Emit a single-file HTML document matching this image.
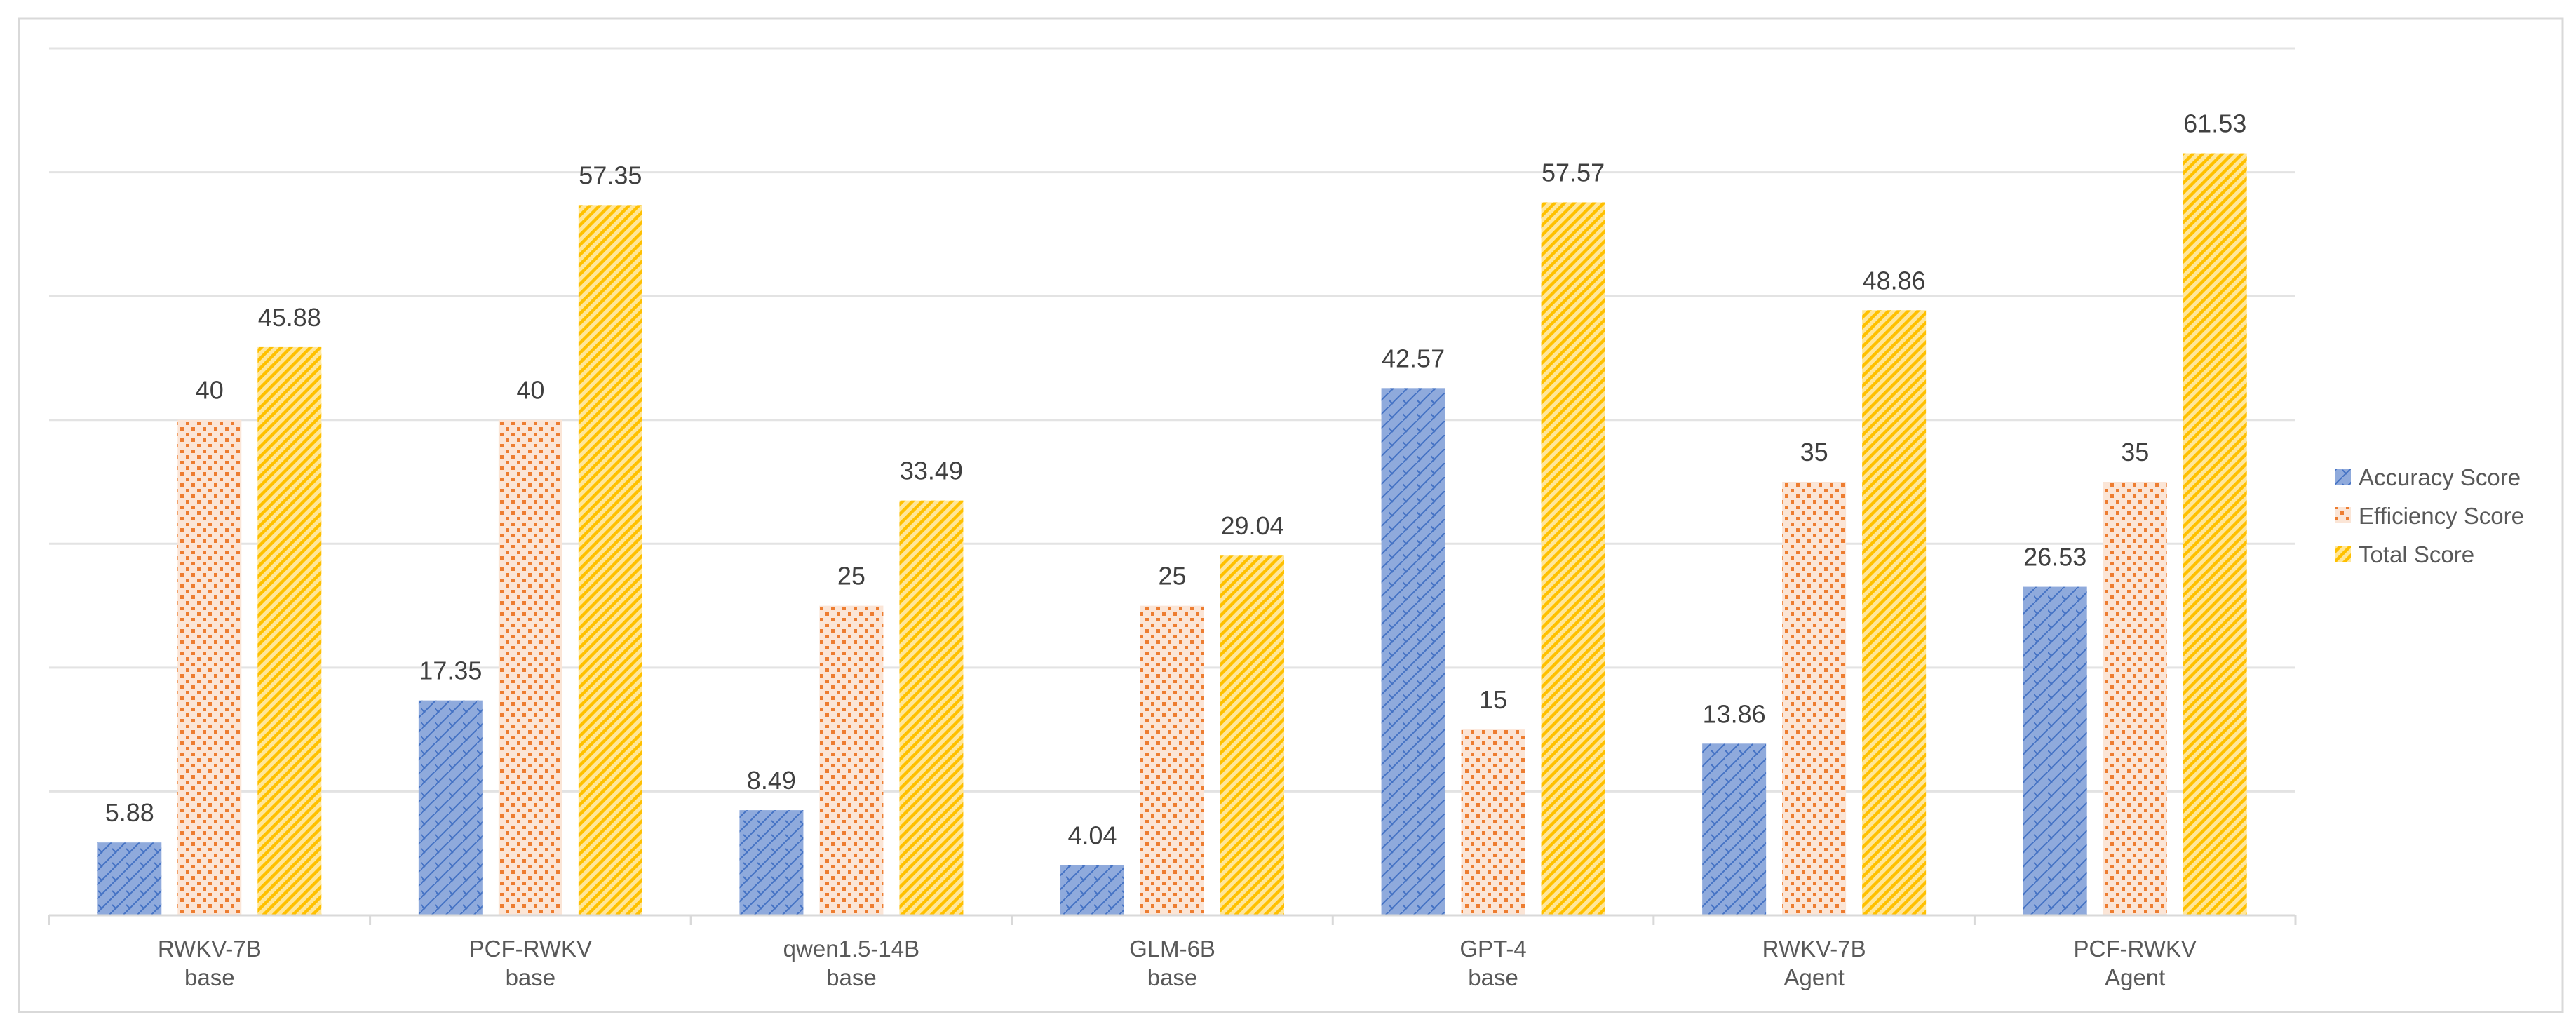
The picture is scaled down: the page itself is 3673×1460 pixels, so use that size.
<!DOCTYPE html>
<html><head><meta charset="utf-8">
<style>
html,body{margin:0;padding:0;background:#fff;}
svg{display:block;font-family:"Liberation Sans",Arial,sans-serif;}
</style></head>
<body>
<svg id="chart" width="3673" height="1460" viewBox="0 0 3673 1460" xmlns="http://www.w3.org/2000/svg">
<defs>
 <pattern id="pat-blue" patternUnits="userSpaceOnUse" width="20" height="20">
  <rect width="20" height="20" fill="#8faadc"/>
  <path d="M-2,22 L22,-2" stroke="#4472c4" stroke-width="2" fill="none"/>
  <path d="M0,10 L6,16" stroke="#4472c4" stroke-width="2" fill="none"/>
 </pattern>
 <pattern id="pat-orange" patternUnits="userSpaceOnUse" width="16" height="16">
  <rect width="16" height="16" fill="#fbe5d6"/>
  <rect x="1" y="1" width="5" height="5" fill="#ed7d31"/>
  <rect x="9" y="9" width="5" height="5" fill="#ed7d31"/>
 </pattern>
 <pattern id="pat-yellow" patternUnits="userSpaceOnUse" width="14" height="14">
  <rect width="14" height="14" fill="#ffe699"/>
  <path d="M-3.5,3.5 L3.5,-3.5 M0,14 L14,0 M10.5,17.5 L17.5,10.5" stroke="#ffc000" stroke-width="4.5"/>
 </pattern>
</defs>
<rect x="27" y="26" width="3627" height="1417" fill="#fff" stroke="#d9d9d9" stroke-width="3"/>
<g id="grid"></g>
<g id="bars"></g>
<g id="xaxis"></g>
<g id="legend"></g>
</svg>
<script>
const categories = [["RWKV-7B","base"],["PCF-RWKV","base"],["qwen1.5-14B","base"],["GLM-6B","base"],["GPT-4","base"],["RWKV-7B","Agent"],["PCF-RWKV","Agent"]];
const seriesNames = ["Accuracy Score","Efficiency Score","Total Score"];
const accuracy = [5.88,17.35,8.49,4.04,42.57,13.86,26.53];
const efficiency = [40,40,25,25,15,35,35];
const total = [45.88,57.35,33.49,29.04,57.57,48.86,61.53];
const yTicks = [0,10,20,30,40,50,60,70];

const NS="http://www.w3.org/2000/svg";
const plotLeft=70,plotRight=3273,plotTop=69,plotBottom=1305,yMax=70;
const yScale=v=>plotBottom-(v/yMax)*(plotBottom-plotTop);
const catW=(plotRight-plotLeft)/categories.length;
const xc=i=>plotLeft+catW*(i+0.5);
const barW=91,barGap=23;
const fills=["url(#pat-blue)","url(#pat-orange)","url(#pat-yellow)"];
const series=[accuracy,efficiency,total];
function mk(tag,attrs,parent){const e=document.createElementNS(NS,tag);for(const k in attrs)e.setAttribute(k,attrs[k]);parent.appendChild(e);return e;}

const grid=document.getElementById('grid');
yTicks.forEach(t=>{if(t===0)return;
 const l=mk('line',{x1:plotLeft,x2:plotRight,y1:yScale(t),y2:yScale(t),stroke:'#e3e3e3','stroke-width':3},grid);
 
 
});

const bars=document.getElementById('bars');
categories.forEach((c,i)=>{
 series.forEach((s,j)=>{
  const x0=xc(i)-(3*barW+2*barGap)/2+j*(barW+barGap);
  const r=mk('rect',{x:x0,y:yScale(s[i]),width:barW,height:plotBottom-yScale(s[i]),fill:fills[j]},bars);
  
  
  const t=mk('text',{x:x0+barW/2,y:yScale(s[i])-30,'text-anchor':'middle','font-size':36,fill:'#404040'},bars);
  t.textContent=String(s[i]);
  
  
 });
});

const xa=document.getElementById('xaxis');
const ax=mk('line',{x1:plotLeft,x2:plotRight,y1:plotBottom,y2:plotBottom,stroke:'#d9d9d9','stroke-width':3},xa);


for(let i=0;i<=categories.length;i++){
 const tk=mk('line',{x1:plotLeft+catW*i,x2:plotLeft+catW*i,y1:plotBottom,y2:plotBottom+14,stroke:'#d9d9d9','stroke-width':3},xa);
 
 
}
categories.forEach((c,i)=>{
 const t=mk('text',{x:xc(i),'text-anchor':'middle','font-size':33,fill:'#595959'},xa);
 
 
 const a=mk('tspan',{x:xc(i),y:1364},t);a.textContent=c[0];
 const b=mk('tspan',{x:xc(i),y:1405},t);b.textContent=c[1];
});

const lg=document.getElementById('legend');
seriesNames.forEach((n,j)=>{
 const g=mk('g',{},lg);
 
 
 const cy=680+j*55;
 mk('rect',{x:3329,y:cy-12,width:23,height:23,fill:fills[j]},g);
 const t=mk('text',{x:3363,y:cy+12,'font-size':33,fill:'#595959'},g);
 t.textContent=n;
});
</script>
</body></html>
